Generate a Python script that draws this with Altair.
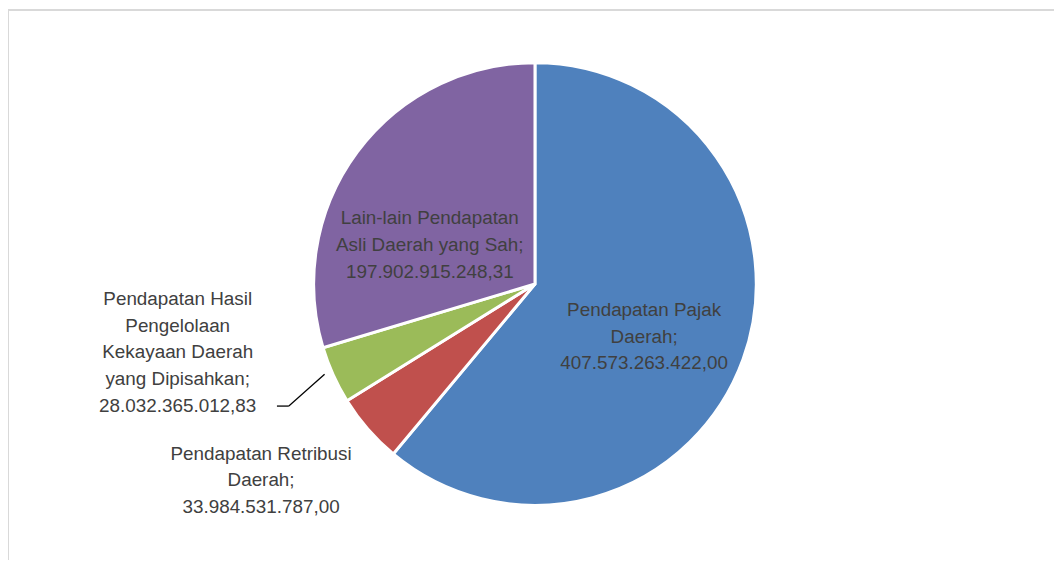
import altair as alt
import pandas as pd

# ---- data ----
categories = [
    "Pendapatan Pajak Daerah",
    "Pendapatan Retribusi Daerah",
    "Pendapatan Hasil Pengelolaan Kekayaan Daerah yang Dipisahkan",
    "Lain-lain Pendapatan Asli Daerah yang Sah",
]
values = [407573263422.00, 33984531787.00, 28032365012.83, 197902915248.31]
label_lines = [
    ["Pendapatan Pajak", "Daerah;"],
    ["Pendapatan Retribusi", "Daerah;"],
    ["Pendapatan Hasil", "Pengelolaan", "Kekayaan Daerah", "yang Dipisahkan;"],
    ["Lain-lain Pendapatan", "Asli Daerah yang Sah;"],
]
colors = ["#4F81BD", "#C0504D", "#9BBB59", "#8064A2"]

# ---- layout (pixel positions inside the chart, origin at page (8,8)) ----
W, H = 1054, 554
cx, cy, R = 531, 276, 223
# (x centre, y of first line)
label_xy = [(641, 302), (255, 447), (171, 291), (425, 210)]
line_h = 27


def id_fmt(v):
    s = f"{v:,.2f}"
    return s.replace(",", "X").replace(".", ",").replace("X", ".")


df = pd.DataFrame({
    "cat": categories,
    "val": values,
    "order": list(range(len(categories))),
})

lab = pd.DataFrame({
    "cat": categories,
    "text": [lines + [id_fmt(v)] for lines, v in zip(label_lines, values)],
    "lx": [p[0] for p in label_xy],
    "ly": [p[1] for p in label_xy],
})

color_scale = alt.Scale(domain=categories, range=colors)

pie = alt.Chart(df).mark_arc(
    outerRadius=R, stroke="white", strokeWidth=3, strokeJoin="miter"
).encode(
    theta=alt.Theta("val:Q", stack=True),
    order=alt.Order("order:Q"),
    color=alt.Color("cat:N", scale=color_scale, legend=None),
    x=alt.value(cx),
    y=alt.value(cy),
)

labels = alt.Chart(lab).mark_text(
    font="Liberation Sans", fontSize=19, color="#404040",
    align="center", baseline="middle", lineHeight=line_h,
).encode(
    x=alt.X("lx:Q", scale=None),
    y=alt.Y("ly:Q", scale=None),
    text="text",
)

# leader line for the small green slice
lead1 = alt.Chart(df.head(1)).mark_rule(color="black", strokeWidth=1.3).encode(
    x=alt.value(271), x2=alt.value(283), y=alt.value(399), y2=alt.value(399)
)
lead2 = alt.Chart(df.head(1)).mark_rule(color="black", strokeWidth=1.3).encode(
    x=alt.value(283), x2=alt.value(319), y=alt.value(399), y2=alt.value(367)
)

# chart frame (top and left edges visible)
frame_top = alt.Chart(df.head(1)).mark_rule(color="#d9d9d9", strokeWidth=2).encode(
    x=alt.value(0), x2=alt.value(W), y=alt.value(0)
)
frame_left = alt.Chart(df.head(1)).mark_rule(color="#d9d9d9", strokeWidth=2).encode(
    x=alt.value(0), y=alt.value(0), y2=alt.value(H)
)

chart = alt.layer(frame_top, frame_left, pie, lead1, lead2, labels).properties(
    width=W, height=H, padding=0, autosize=alt.AutoSizeParams(type="none"),
    background="white",
).configure_view(stroke=None)

chart.save("out.html", embed_options={"renderer": "svg", "actions": False})
